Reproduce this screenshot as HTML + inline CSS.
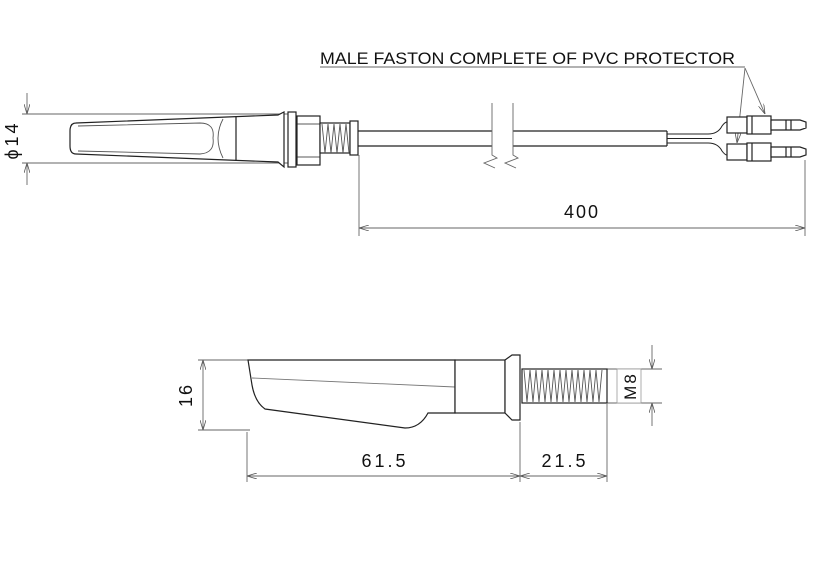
<!DOCTYPE html>
<html><head><meta charset="utf-8"><style>
html,body{margin:0;padding:0;background:#fff;width:814px;height:580px;overflow:hidden}
svg{display:block}
text{font-family:"Liberation Sans",sans-serif;fill:#111}
</style></head><body>
<svg width="814" height="580" viewBox="0 0 814 580" xmlns="http://www.w3.org/2000/svg">
<defs>
<marker id="a" markerWidth="10" markerHeight="6" refX="10" refY="3" orient="auto-start-reverse" markerUnits="userSpaceOnUse"><path d="M0,0 L10,3 L0,6" fill="none" stroke="#555" stroke-width="0.8"/></marker>
</defs>
<g stroke="#666" stroke-width="0.9" fill="none">
<line x1="22" y1="114" x2="290" y2="114"/>
<line x1="22" y1="163" x2="290" y2="163"/>
<line x1="27" y1="93" x2="27" y2="114" marker-end="url(#a)"/>
<line x1="27" y1="185" x2="27" y2="163" marker-end="url(#a)"/>
<line x1="359" y1="155" x2="359" y2="236"/>
<line x1="805" y1="160" x2="805" y2="236"/>
<line x1="359" y1="228" x2="805" y2="228" marker-start="url(#a)" marker-end="url(#a)"/>
<line x1="320" y1="67" x2="745" y2="67"/>
<line x1="745" y1="68" x2="765" y2="114" marker-end="url(#a)"/>
<line x1="745" y1="68" x2="737" y2="143" marker-end="url(#a)"/>
<line x1="198" y1="360" x2="250" y2="360"/>
<line x1="198" y1="430" x2="250" y2="430"/>
<line x1="203" y1="360" x2="203" y2="430" marker-start="url(#a)" marker-end="url(#a)"/>
<line x1="247" y1="432" x2="247" y2="482"/>
<line x1="520" y1="422" x2="520" y2="482"/>
<line x1="607" y1="404" x2="607" y2="482"/>
<line x1="247" y1="476" x2="520" y2="476" marker-start="url(#a)" marker-end="url(#a)"/>
<line x1="520" y1="476" x2="607" y2="476" marker-start="url(#a)" marker-end="url(#a)"/>
<line x1="607" y1="369" x2="662" y2="369"/>
<line x1="607" y1="403" x2="662" y2="403"/>
<line x1="652" y1="345" x2="652" y2="369" marker-end="url(#a)"/>
<line x1="652" y1="426" x2="652" y2="403" marker-end="url(#a)"/>
</g>
<g stroke="#222" stroke-width="1.2" fill="#fff">
<!-- top body -->
<path d="M76,123 L278,115 L284,112 L284,167 L278,162 L76,154 Q70,154 70,146 L70,131 Q70,123 76,123 Z"/>
<path d="M78,126 L200,123 Q215,123 213,138 Q215,153 200,154 L78,151" fill="none" stroke="#555" stroke-width="0.9"/>
<path d="M223,119 Q213,138 223,158" fill="none" stroke="#555" stroke-width="0.9"/>
<line x1="236" y1="117" x2="236" y2="161"/>
<rect x="288" y="112" width="8" height="55"/>
<rect x="297" y="116" width="23" height="49"/>
<line x1="297" y1="124" x2="320" y2="124" stroke-width="0.8"/><line x1="297" y1="157" x2="320" y2="157" stroke-width="0.8"/>
<rect x="320" y="123" width="30" height="30"/>
<path d="M322,124 l3,29 l3,-29 l3,29 l3,-29 l3,29 l3,-29 l3,29 l3,-29 l3,29" stroke="#555" fill="none" stroke-width="0.9"/>
<rect x="350" y="121" width="8" height="34"/>
<!-- cable -->
<line x1="358" y1="131" x2="667" y2="131"/><line x1="358" y1="146" x2="667" y2="146"/>
<line x1="667" y1="131" x2="667" y2="146"/>
<rect x="492" y="101" width="21" height="58" fill="#fff" stroke="none"/>
<path d="M492,103 L492,155 L497,158 L484,163 L495,168 M513,103 L513,155 L518,158 L505,163 L516,168" stroke="#666" stroke-width="0.9" fill="none"/>
<path d="M667,134 L708,134 Q718,134 722,126 Q725,122 727,122" fill="none" stroke-width="1"/>
<path d="M667,143 L708,143 Q718,143 722,151 Q725,155 727,155" fill="none" stroke-width="1"/>
<path d="M667,138.5 L712,138.5" fill="none" stroke-width="1"/>
<g>
<rect x="727" y="117" width="20" height="16"/><rect x="747" y="116" width="24" height="18"/>
<line x1="752" y1="116" x2="752" y2="134"/>
<path d="M771,120 L800,120 L806,122 L806,128 L800,130 L771,130 Z"/>
<line x1="786" y1="120" x2="786" y2="130"/><line x1="791" y1="120" x2="791" y2="130"/>
</g>
<g transform="translate(0,27)">
<rect x="727" y="117" width="20" height="16"/><rect x="747" y="116" width="24" height="18"/>
<line x1="752" y1="116" x2="752" y2="134"/>
<path d="M771,120 L800,120 L806,122 L806,128 L800,130 L771,130 Z"/>
<line x1="786" y1="120" x2="786" y2="130"/><line x1="791" y1="120" x2="791" y2="130"/>
</g>
<!-- bottom body -->
<path d="M248,360 L455,360 L455,413 L428,413 Q420,428 405,428 L265,409 Q255,402 252,385 Z"/>
<path d="M252,378 L455,387" fill="none" stroke="#777" stroke-width="0.9"/>
<rect x="455" y="360" width="50" height="53"/>
<path d="M505,360 L512,355 L520,355 L520,420 L512,420 L505,413 Z"/>
<rect x="522" y="369" width="85" height="34"/>
<path d="M524,370 l3,32 l3,-32 l3,32 l3,-32 l3,32 l3,-32 l3,32 l3,-32 l3,32 l3,-32 l3,32 l3,-32 l3,32 l3,-32 l3,32 l3,-32 l3,32 l3,-32 l3,32 l3,-32 l3,32 l3,-32 l3,32 l3,-32 l3,32 l3,-32" stroke="#555" fill="none" stroke-width="0.9"/>
<rect x="617" y="369" width="24" height="34" stroke="#999" stroke-width="0.8"/>
</g>
<text x="320" y="64" font-size="17" textLength="415" lengthAdjust="spacingAndGlyphs">MALE FASTON COMPLETE OF PVC PROTECTOR</text>
<text x="582" y="218" font-size="18" text-anchor="middle" letter-spacing="2">400</text>
<text x="385" y="467" font-size="18" text-anchor="middle" letter-spacing="3">61.5</text>
<text x="565" y="467" font-size="18" text-anchor="middle" letter-spacing="3">21.5</text>
<text transform="translate(18,140) rotate(-90)" font-size="18" text-anchor="middle" letter-spacing="3">ϕ14</text>
<text transform="translate(192,395) rotate(-90)" font-size="18" text-anchor="middle" letter-spacing="2">16</text>
<text transform="translate(636,386) rotate(-90)" font-size="17" text-anchor="middle" letter-spacing="2">M8</text>
</svg>
</body></html>
